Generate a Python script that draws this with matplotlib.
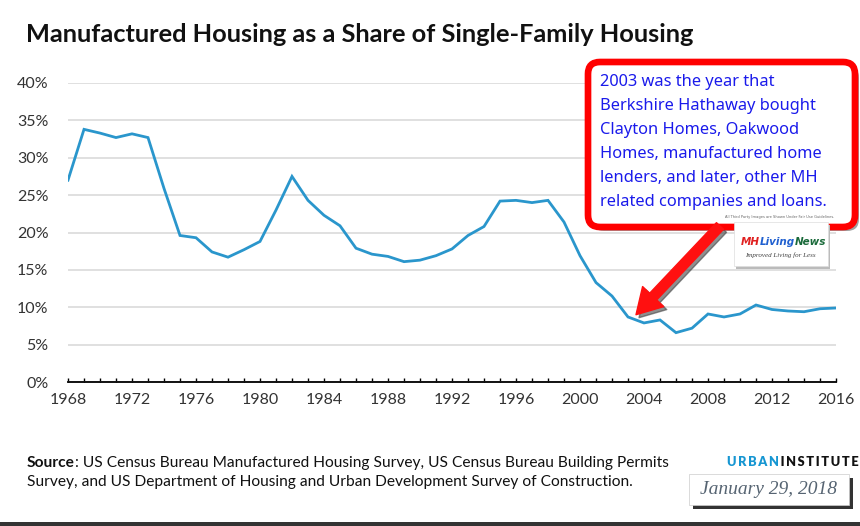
import matplotlib
matplotlib.use("Agg")
import matplotlib.pyplot as plt
import matplotlib.ticker as mt
from matplotlib.patches import FancyBboxPatch, FancyArrowPatch, Rectangle, ArrowStyle
from matplotlib.transforms import IdentityTransform
from matplotlib.text import Annotation

years = list(range(1968, 2017))
share = [27.0, 33.8, 33.3, 32.7, 33.2, 32.7, 25.9, 19.6, 19.3, 17.4,
         16.7, 17.7, 18.8, 23.0, 27.5, 24.3, 22.3, 20.9, 17.9, 17.1,
         16.8, 16.1, 16.3, 16.9, 17.8, 19.6, 20.8, 24.2, 24.3, 24.0,
         24.3, 21.4, 16.9, 13.3, 11.5, 8.7, 7.9, 8.3, 6.6, 7.2,
         9.1, 8.7, 9.1, 10.3, 9.7, 9.5, 9.4, 9.8, 9.9]
ytick_vals = [0, 5, 10, 15, 20, 25, 30, 35, 40]

title = "Manufactured Housing as a Share of Single-Family Housing"
callout = ("2003 was the year that\nBerkshire Hathaway bought\nClayton Homes, Oakwood\n"
           "Homes, manufactured home\nlenders, and later, other MH\nrelated companies and loans.")
source_1 = ": US Census Bureau Manufactured Housing Survey, US Census Bureau Building Permits"
source_2 = "Survey, and US Department of Housing and Urban Development Survey of Construction."

W, H = 860, 526
fig = plt.figure(figsize=(W / 100, H / 100), dpi=100)
fig.patch.set_facecolor("white")

def fx(px):
    return px / W

def fy(py):
    # py measured from the top of the picture
    return 1 - py / H

def chain(prev, txt, **kw):
    # text placed right after another text artist, on the figure
    a = Annotation(txt, xy=(1, 0.5), xycoords=prev, va="center", ha="left",
                   annotation_clip=False, **kw)
    fig.add_artist(a)
    return a

ax = fig.add_axes([fx(68), fy(382), fx(836) - fx(68), fy(83) - fy(382)])
ax.plot(years, share, color="#2a96cc", lw=2.0, solid_joinstyle="miter", zorder=3)

ax.set_xlim(1968, 2016)
ax.set_ylim(0, 40)
ax.xaxis.set_major_locator(mt.MultipleLocator(4))
ax.xaxis.set_minor_locator(mt.MultipleLocator(1))
ax.set_yticks(ytick_vals)
ax.yaxis.set_major_formatter(mt.FuncFormatter(lambda v, p: "%d%%" % v))
for s in ["top", "right", "left"]:
    ax.spines[s].set_visible(False)
ax.spines["bottom"].set_color("black")
ax.spines["bottom"].set_linewidth(1.3)
ax.spines["bottom"].set_zorder(4)
ax.tick_params(axis="x", which="both", direction="in", length=3, width=1, color="black",
               pad=8, labelsize=11.5, labelcolor="#333333")
ax.tick_params(axis="y", length=0, pad=14, labelsize=11.5, labelcolor="#333333")
for lab in ax.get_xticklabels() + ax.get_yticklabels():
    lab.set_family("Lato")
ax.grid(axis="y", color="#dddddd", lw=1.3)
ax.set_axisbelow(True)

fig.text(fx(26), fy(35), title, fontsize=18.3, fontweight="bold", family="Lato",
         va="center", ha="left", color="#111111")

# callout box with shadow
idt = IdentityTransform()
bx0, by0, bw, bh = 588, H - 227, 267, 165
fig.patches.append(FancyBboxPatch((bx0 + 4, by0 - 4), bw, bh, boxstyle="round,pad=0,rounding_size=12",
                                  transform=idt, facecolor="#555555", edgecolor="none", alpha=0.55, zorder=5))
fig.patches.append(FancyBboxPatch((bx0, by0), bw, bh, boxstyle="round,pad=0,rounding_size=12",
                                  transform=idt, facecolor="white", edgecolor="#ff0000", lw=4.8, zorder=6))
fig.text(fx(600), fy(74), callout, fontsize=11.8, family="Noto Sans", color="#1a1aeb",
         va="top", ha="left", linespacing=1.66, zorder=7)

# red arrow pointing at 2003
tip = ax.transData.transform((2003.5, 9.0))
tail = (720, H - 226)
style = ArrowStyle.Simple(head_length=18, head_width=21, tail_width=7)
fig.patches.append(FancyArrowPatch((tail[0] + 3, tail[1] - 3), (tip[0] + 3, tip[1] - 3), transform=idt,
                                   arrowstyle=style, mutation_scale=1, color="#444444", alpha=0.6,
                                   shrinkA=0, shrinkB=0, zorder=5))
fig.patches.append(FancyArrowPatch(tail, tip, transform=idt, arrowstyle=style, mutation_scale=1,
                                   color="#ff1010", shrinkA=0, shrinkB=0, zorder=6))

# logo stand-in
fig.text(fx(780), fy(217), "All Third Party Images are Shown Under Fair Use Guidelines.",
         fontsize=2.6, color="#666666", ha="center", va="center", zorder=9)
fig.patches.append(Rectangle((734 + 2, H - 266 - 3), 94, 44, transform=idt,
                             facecolor="#bbbbbb", edgecolor="none", zorder=7))
fig.patches.append(Rectangle((734, H - 266), 94, 44, transform=idt,
                             facecolor="white", edgecolor="#dddddd", lw=0.5, zorder=8))
mh = fig.text(fx(741), fy(242), "MH", fontsize=7.5, fontweight="bold", style="italic", color="#e02020",
              va="center", ha="left", zorder=9)
liv = chain(mh, "Living", fontsize=7.5, fontweight="bold", style="italic", color="#2060d0", zorder=9)
chain(liv, "News", fontsize=7.5, fontweight="bold", style="italic", color="#1a6a3a", zorder=9)
fig.text(fx(780), fy(255), "Improved Living for Less", fontsize=5, style="italic",
         family="Liberation Serif", color="#444444", va="center", ha="center", zorder=9)

# footer
src = fig.text(fx(27), fy(463), "Source", fontsize=11.15, fontweight="bold", family="Lato",
               color="#111111", va="center", ha="left")
chain(src, source_1, fontsize=11.15, family="Lato", color="#111111")
fig.text(fx(27), fy(482), source_2, fontsize=11.15, family="Lato", color="#111111",
         va="center", ha="left")

urb = fig.text(fx(727), fy(462), "U\u2009R\u2009B\u2009A\u2009N", fontsize=9.2, fontweight="heavy",
               family=["Lato", "DejaVu Sans"], color="#1696d2", va="center", ha="left")
chain(urb, "\u2009I\u2009N\u2009S\u2009T\u2009I\u2009T\u2009U\u2009T\u2009E",
      fontsize=9.2, fontweight="heavy", family=["Lato", "DejaVu Sans"], color="#111111")

fig.patches.append(Rectangle((693, H - 509), 160, 31, transform=idt,
                             facecolor="#333333", edgecolor="none", zorder=1))
fig.patches.append(Rectangle((689, H - 505), 160, 31, transform=idt,
                             facecolor="white", edgecolor="#cccccc", lw=0.5, zorder=2))
fig.text(fx(769), fy(490), "January 29, 2018", fontsize=14, style="italic", family="Liberation Serif",
         color="#566472", va="center", ha="center", zorder=3)

fig.patches.append(Rectangle((0, 0), W, 4, transform=idt, facecolor="#333333", edgecolor="none"))

fig.savefig("out.png", dpi=100)
